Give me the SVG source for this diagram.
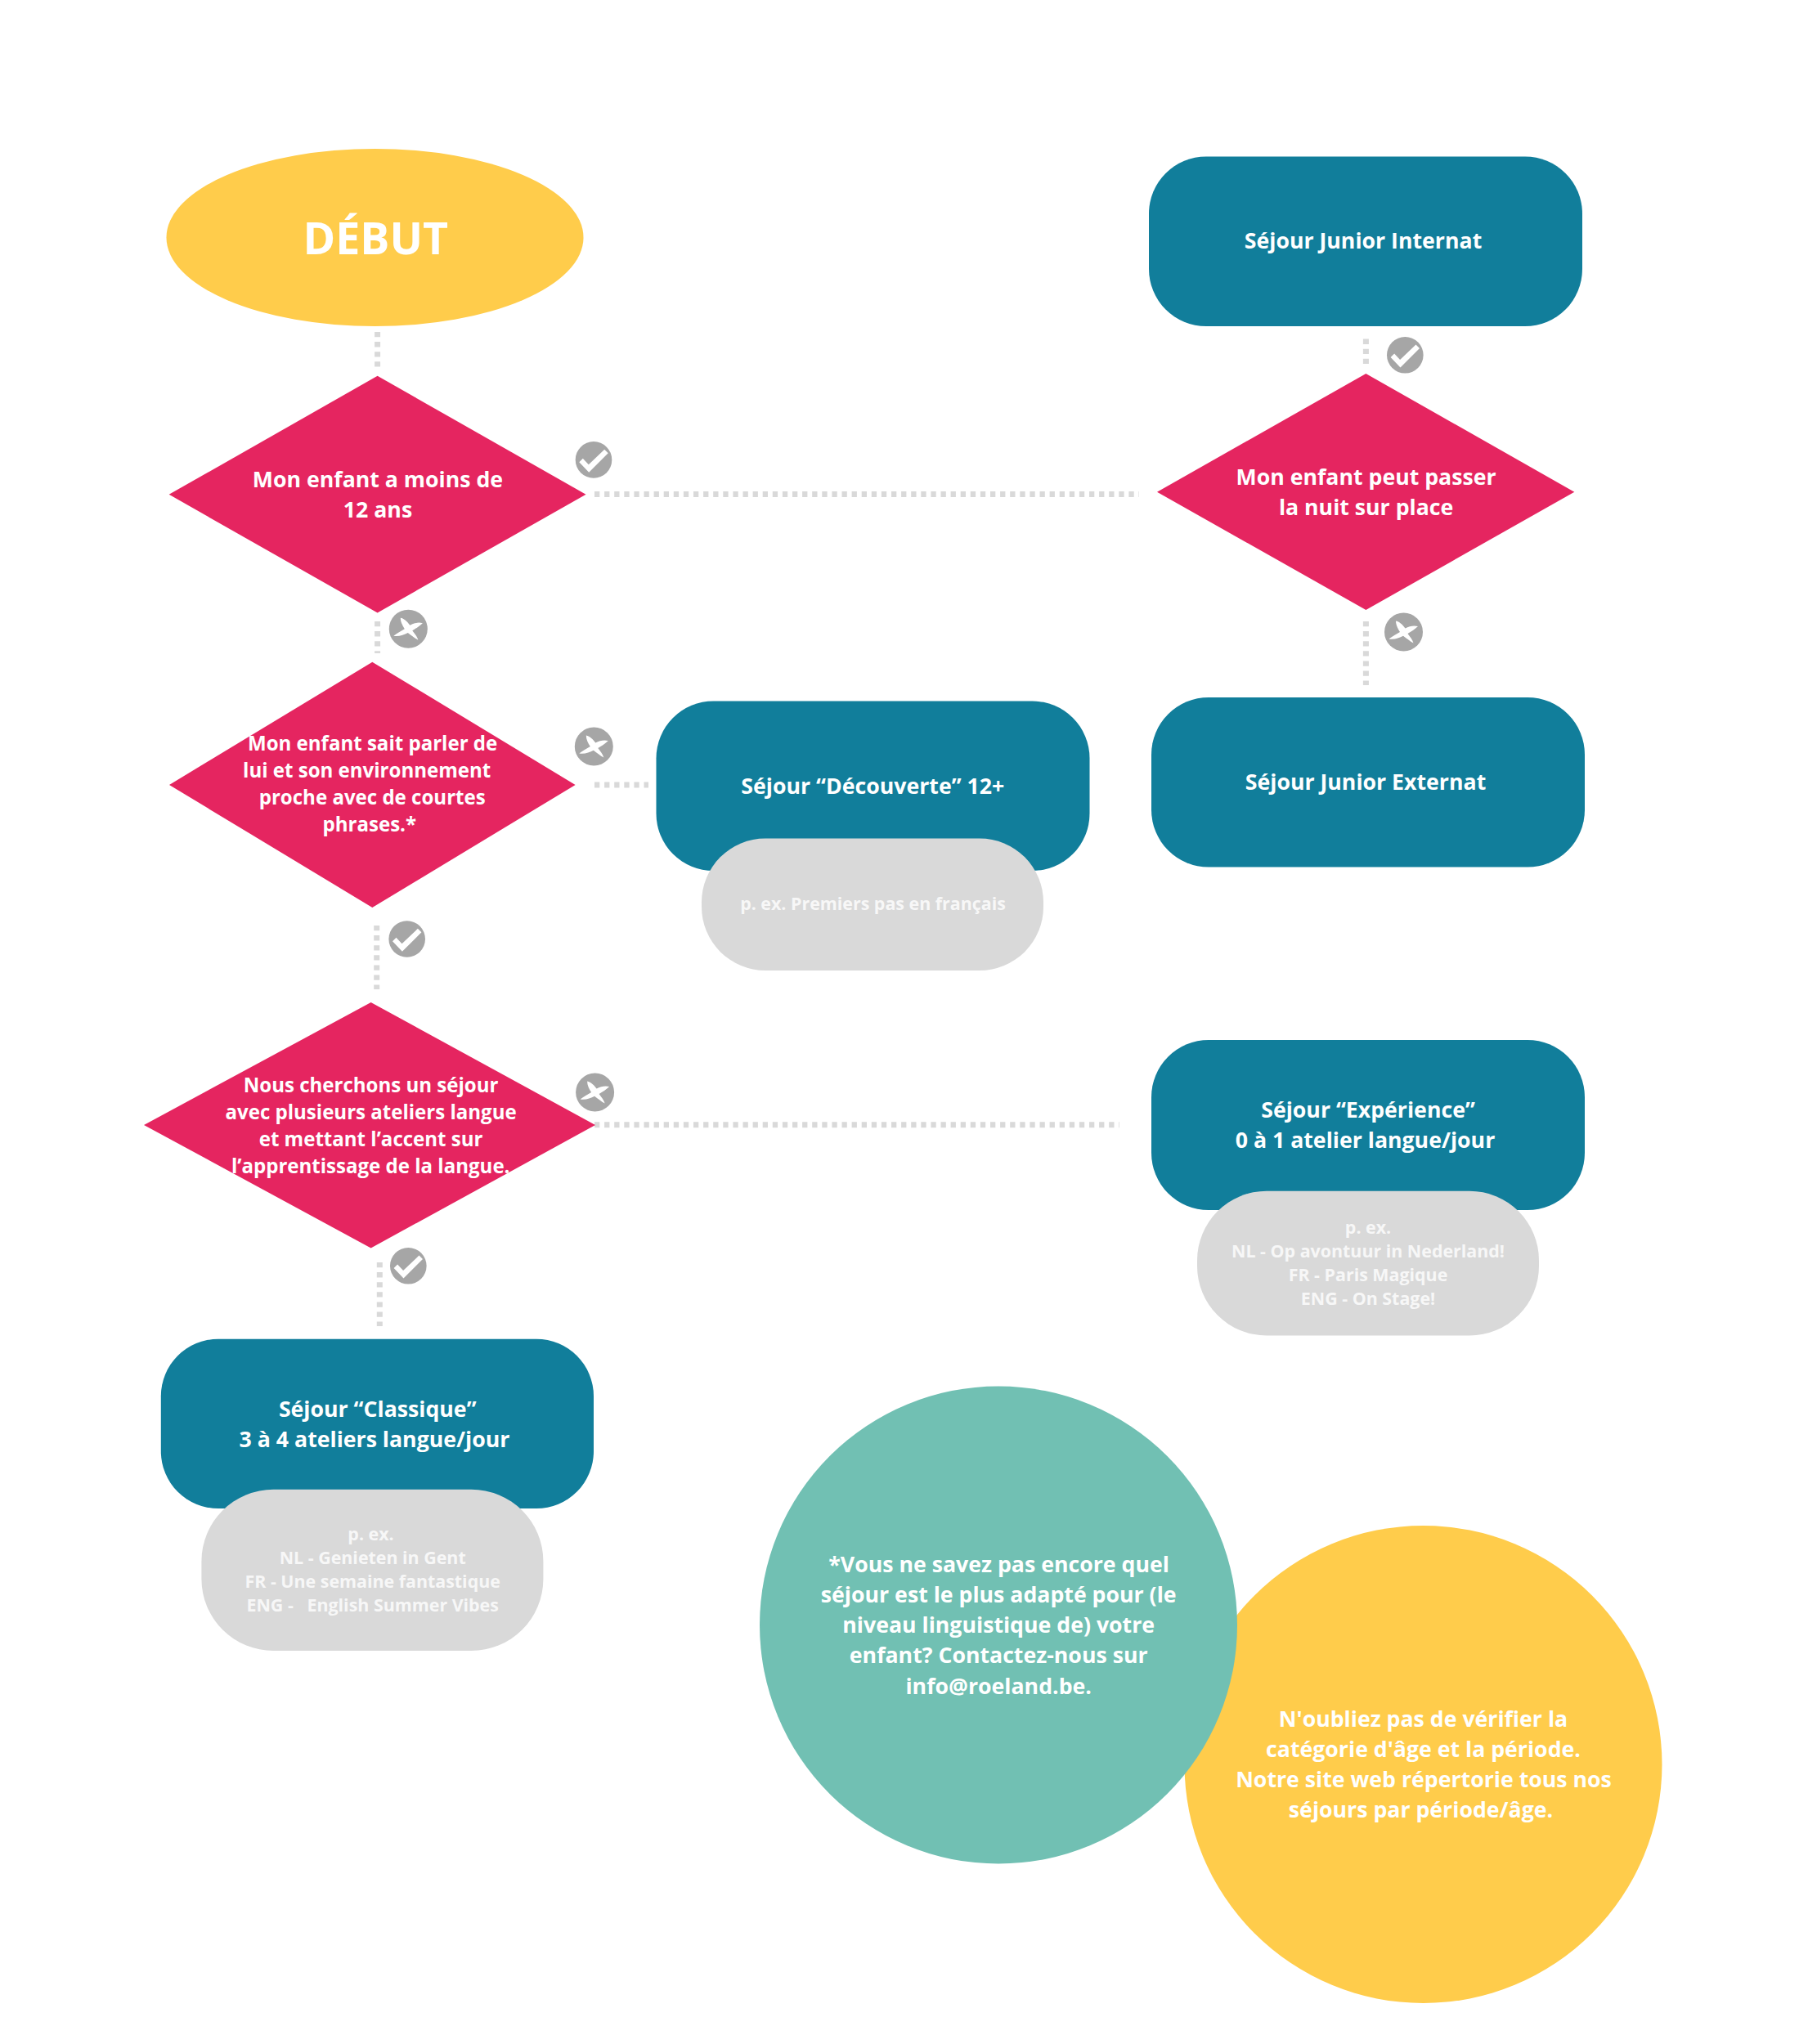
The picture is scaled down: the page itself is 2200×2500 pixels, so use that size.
<svg xmlns="http://www.w3.org/2000/svg" width="2200" height="2500" viewBox="0 0 2200 2500">
<style>
text{font-family:"Open Sans","Noto Sans",sans-serif;font-weight:700;fill:#fff;text-anchor:middle;white-space:pre}
.d{fill:#e52560}.s{fill:#117e9b}.g{fill:#d9d9d9}
.t{font-size:26.7px}.q{font-size:24.05px}.e{font-size:21.4px;fill:#f7f7f7}
.c{fill:none;stroke:#d9d9d9;stroke-width:7;stroke-dasharray:6.3 5.8}
.i{fill:#a6a6a6}
</style>
<defs>
<g id="ck"><circle class="i" r="22.3"/><path fill="#fff" d="M-17.7,2.8L-13.2,-1.7L-6.2,5.8L13.2,-12.7L17.7,-8.2L-5.8,15.3Z"/></g>
<g id="cx"><circle class="i" r="23.5"/><path fill="#fff" d="M-9.5,-13.5C-5,-13 -.5,-8 2,-4.5C7,-7 12,-8.5 17.5,-7C14,-3.5 9,-.5 5,2C7.5,5.5 11,9.5 12,13.5C8,11.5 3,7.5 -.5,4.8C-5.5,7.5 -11.5,9.5 -18,8.5C-13.5,5 -8,2 -4.5,0C-7,-4 -9.5,-8.5 -9.5,-13.5Z"/></g>
</defs>
<rect width="2200" height="2500" fill="#fff"/>
<g id="connectors">
<path class="c" d="M461.6 406V449"/>
<path class="c" d="M461.6 760V799"/>
<path class="c" d="M460.7 1132V1210"/>
<path class="c" d="M464.3 1544V1622"/>
<path class="c" d="M727 604.5H1393"/>
<path class="c" d="M727 960H793"/>
<path class="c" d="M727 1375.7H1369"/>
<path class="c" d="M1670.4 414.6V445"/>
<path class="c" d="M1670.4 760V838"/>
</g>
<g id="debut"><ellipse cx="458.5" cy="290.5" rx="255" ry="108.5" fill="#ffcc4b"/><text x="459.3" y="310.7" font-size="53.7">DÉBUT</text></g>
<g id="q1"><polygon class="d" points="461.6,459.8 716.5,604.8 461.6,749.4 206.7,604.8"/><text class="t"><tspan x="462" y="595.6">Mon enfant a moins de</tspan><tspan x="462" y="632.6">12 ans</tspan></text></g>
<g id="q2"><polygon class="d" points="455.3,809.7 703.6,960 455.3,1110 207,960"/><text class="q"><tspan x="455.6" y="918">Mon enfant sait parler de</tspan><tspan x="448.7" y="951">lui et son environnement</tspan><tspan x="455.2" y="984">proche avec de courtes</tspan><tspan x="451.8" y="1017">phrases.*</tspan></text></g>
<g id="q3"><polygon class="d" points="453.6,1226 728,1376 453.6,1526.5 176,1376"/><text class="q"><tspan x="453.6" y="1335.5">Nous cherchons un séjour</tspan><tspan x="453.6" y="1368.5">avec plusieurs ateliers langue</tspan><tspan x="453.6" y="1401.5">et mettant l’accent sur</tspan><tspan x="453.2" y="1434.5">l’apprentissage de la langue.</tspan></text></g>
<g id="q4"><polygon class="d" points="1670.4,457 1925.3,601.7 1670.4,746 1415,601.7"/><text class="t"><tspan x="1670.6" y="593">Mon enfant peut passer</tspan><tspan x="1670.6" y="630">la nuit sur place</tspan></text></g>
<g id="internat"><rect class="s" x="1405" y="191.4" width="530" height="207.6" rx="70"/><text class="t" x="1667" y="304">Séjour Junior Internat</text></g>
<g id="externat"><rect class="s" x="1408" y="853" width="530" height="207.5" rx="70"/><text class="t" x="1670" y="966">Séjour Junior Externat</text></g>
<g id="decouverte"><rect class="s" x="802.5" y="857.5" width="530" height="207.5" rx="70"/><text class="t" x="1067.3" y="971">Séjour “Découverte” 12+</text></g>
<g id="decouverte-ex"><rect class="g" x="858" y="1025.5" width="418" height="161.5" rx="78"/><text class="e" x="1067.5" y="1112.5">p. ex. Premiers pas en français</text></g>
<g id="experience"><rect class="s" x="1408" y="1272" width="530" height="208" rx="70"/><text class="t"><tspan x="1673" y="1367">Séjour “Expérience”</tspan><tspan x="1669.5" y="1404">0 à 1 atelier langue/jour</tspan></text></g>
<g id="experience-ex"><rect class="g" x="1464" y="1456.7" width="418" height="176.8" rx="85"/><text class="e"><tspan x="1673" y="1508.7">p. ex.</tspan><tspan x="1673" y="1537.7">NL - Op avontuur in Nederland!</tspan><tspan x="1673" y="1566.7">FR - Paris Magique</tspan><tspan x="1673" y="1595.7">ENG - On Stage!</tspan></text></g>
<g id="classique"><rect class="s" x="196.8" y="1637.7" width="529.2" height="207.3" rx="70"/><text class="t"><tspan x="461.7" y="1732.7">Séjour “Classique”</tspan><tspan x="458" y="1770.3">3 à 4 ateliers langue/jour</tspan></text></g>
<g id="classique-ex"><rect class="g" x="246.4" y="1821.7" width="418" height="197.3" rx="88"/><text class="e"><tspan x="453.5" y="1884">p. ex.</tspan><tspan x="455.7" y="1912.7">NL - Genieten in Gent</tspan><tspan x="455.7" y="1941.7">FR - Une semaine fantastique</tspan><tspan x="455.7" y="1970.7">ENG -   English Summer Vibes</tspan></text></g>
<g id="note-age"><circle cx="1740.5" cy="2158" r="292" fill="#ffcc4b"/><text class="t"><tspan x="1740.5" y="2111.6">N'oubliez pas de vérifier la</tspan><tspan x="1740.5" y="2148.5">catégorie d'âge et la période.</tspan><tspan x="1741" y="2185.5">Notre site web répertorie tous nos</tspan><tspan x="1737.5" y="2222.8">séjours par période/âge.</tspan></text></g>
<g id="note-contact"><circle cx="1221" cy="1987.5" r="292" fill="#71c0b3"/><text class="t"><tspan x="1221.6" y="1923">*Vous ne savez pas encore quel</tspan><tspan x="1221.2" y="1960">séjour est le plus adapté pour (le</tspan><tspan x="1221.2" y="1996.5">niveau linguistique de) votre</tspan><tspan x="1221.2" y="2033.5">enfant? Contactez-nous sur</tspan><tspan x="1221.2" y="2071.7">info@roeland.be.</tspan></text></g>
<g id="icons">
<use href="#ck" x="726" y="562.4"/>
<use href="#cx" x="499.3" y="769.2"/>
<use href="#cx" x="726.3" y="913"/>
<use href="#ck" x="497.7" y="1148.5"/>
<use href="#cx" x="727.6" y="1336"/>
<use href="#ck" x="499.3" y="1548.3"/>
<use href="#ck" x="1718.3" y="434.3"/>
<use href="#cx" x="1716.5" y="773"/>
</g>
</svg>
